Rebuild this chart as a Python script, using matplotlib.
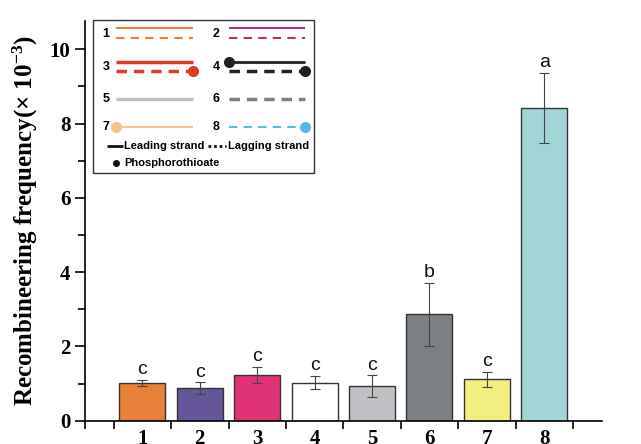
import matplotlib
matplotlib.use("Agg")
import matplotlib.pyplot as plt
import numpy as np

plt.rcParams["mathtext.fontset"] = "custom"
plt.rcParams["mathtext.rm"] = "Liberation Serif:bold"
plt.rcParams["mathtext.default"] = "rm"

categories = ["1", "2", "3", "4", "5", "6", "7", "8"]
values = [1.01, 0.88, 1.23, 1.02, 0.93, 2.86, 1.11, 8.41]
errors = [0.08, 0.15, 0.21, 0.175, 0.29, 0.86, 0.20, 0.945]
letters = ["c", "c", "c", "c", "c", "b", "c", "a"]
colors = ["#E8803A", "#65559A", "#E03274", "#FFFFFF", "#C0C1C4", "#7B8084", "#F2EE80", "#A2D5D8"]

W, H = 641, 444
fig = plt.figure(figsize=(W / 100, H / 100), dpi=100)
ax = fig.add_axes([85 / W, (H - 420.7) / H, 516.6 / W, 399.7 / H])

x = np.arange(1, len(categories) + 1)
ax.bar(x, values, width=0.8, color=colors, edgecolor="#333333", linewidth=1.0, zorder=2)
ax.errorbar(x, values, yerr=errors, fmt="none", ecolor="#444444", elinewidth=0.8,
            capsize=3.5, capthick=0.8, zorder=3)
for xi, v, e, l in zip(x, values, errors, letters):
    ax.text(xi, v + e + 0.05, l, ha="center", va="bottom", fontsize=14,
            family="Liberation Sans", color="#111111")

ax.set_xlim(0, 9)
ax.set_ylim(0, 10.76)
for s in ["top", "right"]:
    ax.spines[s].set_visible(False)
for s in ["left", "bottom"]:
    ax.spines[s].set_linewidth(1.2)

ax.set_xticks(x)
ax.set_xticklabels(categories, fontsize=15, fontweight="bold", family="Liberation Serif")
ax.tick_params(axis="x", which="major", length=0, pad=6)
ax.set_xticks([0] + list(np.arange(0.5, 9, 1.0)), minor=True)
ax.tick_params(axis="x", which="minor", length=6, width=1.2, direction="out")

ax.set_yticks([0, 2, 4, 6, 8, 10])
ax.set_yticks([1, 3, 5, 7, 9], minor=True)
ax.set_yticklabels(["0", "2", "4", "6", "8", "10"], fontsize=15, fontweight="bold",
                   family="Liberation Serif")
ax.tick_params(axis="y", which="major", length=7, width=1.2)
ax.tick_params(axis="y", which="minor", length=5, width=1.2)
ax.set_ylabel("Recombineering frequency(× 10$^{-3}$)", fontsize=18, fontweight="bold",
              family="Liberation Serif", labelpad=7)

# Custom legend drawn in pixel coordinates
lx = fig.add_axes([0, 0, 1, 1], zorder=5)
lx.set_xlim(0, W)
lx.set_ylim(H, 0)
lx.axis("off")
lx.add_patch(plt.Rectangle((92.5, 20), 221, 153, facecolor="white", edgecolor="#333333",
                           linewidth=1.0))
numkw = dict(fontsize=9, fontweight="bold", family="Liberation Sans", va="center", ha="center")
L1, L2 = (116, 193), (229, 305)

def seg(xs, y, color, ls="-", lw=1.5, dash=None):
    line, = lx.plot(xs, [y, y], color=color, lw=lw, ls=ls, solid_capstyle="butt")
    if dash is not None:
        line.set_dashes(dash)

# row 1
lx.text(106, 34, "1", **numkw)
seg(L1, 28.3, "#E8803A")
seg(L1, 38.3, "#E8803A", dash=(4, 3))
lx.text(216, 34, "2", **numkw)
seg(L2, 28.3, "#B0307A")
seg(L2, 38.3, "#B0307A", dash=(4, 3))
# row 2
lx.text(106, 67, "3", **numkw)
seg(L1, 61.7, "#E03A2A", lw=2.5)
seg(L1, 71, "#E03A2A", lw=2.5, dash=(3, 2))
lx.plot([L1[1]], [71], "o", color="#E03A2A", ms=7)
lx.text(216, 67, "4", **numkw)
seg(L2, 61.7, "#222222", lw=2.0)
lx.plot([L2[0]], [61.7], "o", color="#222222", ms=7)
seg(L2, 71, "#222222", lw=2.5, dash=(3, 2))
lx.plot([L2[1]], [71], "o", color="#222222", ms=7)
# row 3
lx.text(106, 99.3, "5", **numkw)
seg(L1, 99.3, "#C0C0C0", lw=2.5)
lx.text(216, 99.3, "6", **numkw)
seg(L2, 99.3, "#7F7F7F", lw=2.5, dash=(3, 2))
# row 4
lx.text(106, 127.3, "7", **numkw)
seg(L1, 127.3, "#F3C58C", lw=1.5)
lx.plot([L1[0]], [127.3], "o", color="#F3C58C", ms=7)
lx.text(216, 127.3, "8", **numkw)
seg(L2, 127.3, "#5BB8E6", lw=1.5, dash=(4, 3))
lx.plot([L2[1]], [127.3], "o", color="#5BB8E6", ms=7)
# row 5
seg((107, 123), 145.7, "#111111", lw=2.0)
lx.text(124, 145.7, "Leading strand", fontsize=8, fontweight="bold", family="Liberation Sans",
        va="center", ha="left")
seg((208, 226), 145.7, "#111111", lw=2.0, dash=(1, 1))
lx.text(228, 145.7, "Lagging strand", fontsize=8, fontweight="bold", family="Liberation Sans",
        va="center", ha="left")
# row 6
lx.plot([116], [162.7], "o", color="#111111", ms=4)
lx.text(124, 162.7, "Phosphorothioate", fontsize=8, fontweight="bold", family="Liberation Sans",
        va="center", ha="left")

fig.savefig("out.png", dpi=100)
